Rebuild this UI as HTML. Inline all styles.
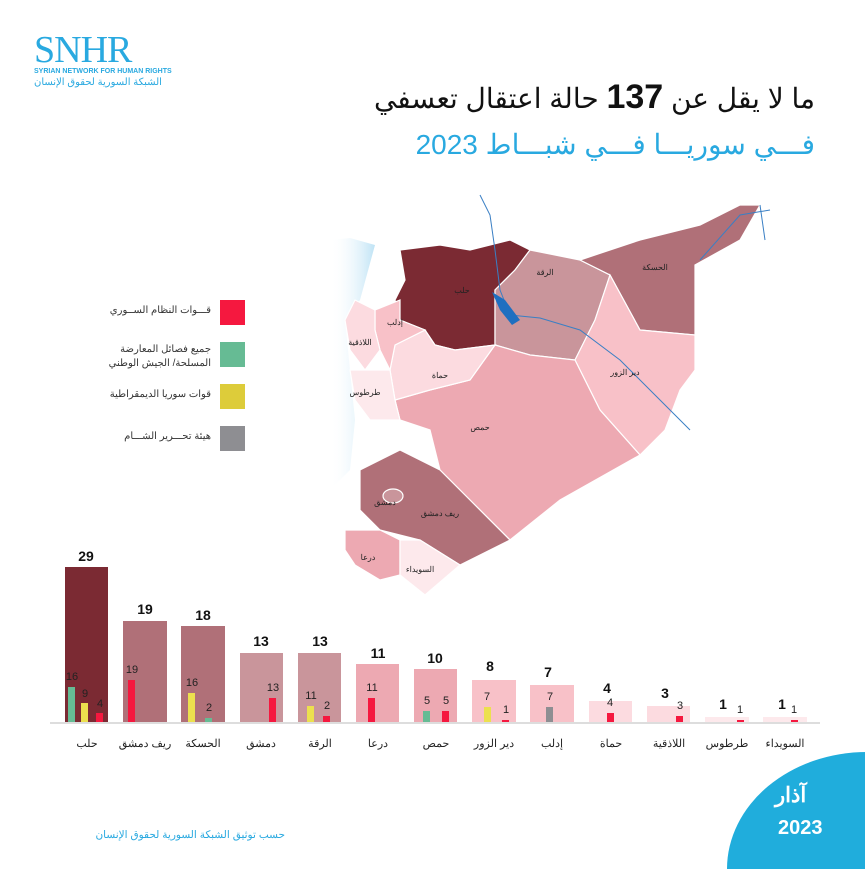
<!DOCTYPE html>
<html><head><meta charset="utf-8"><style>
body{margin:0;width:865px;height:867px;background:#fff;position:relative;overflow:hidden;font-family:"Liberation Sans","Noto Sans CJK SC",sans-serif}
.a{position:absolute}
.t{position:absolute;white-space:nowrap}
.bar{position:absolute}
.lbl{position:absolute;width:60px;text-align:center;font-size:14px;font-weight:bold;color:#111}
.cat{position:absolute;width:70px;text-align:center;font-size:11px;color:#222;top:737px}
.sm{position:absolute;font-size:11px;color:#222;width:20px;text-align:center}
</style></head><body>
<div class="t" style="left:34px;top:28px;font-family:'Liberation Serif',serif;font-size:38px;color:#29a9e0;letter-spacing:-1px">SNHR</div>
<div class="t" style="left:34px;top:68px;font-size:7px;color:#29a9e0;font-weight:bold">SYRIAN NETWORK FOR HUMAN RIGHTS</div>
<div class="t" style="left:34px;top:77px;font-size:10px;color:#29a9e0" dir="rtl">الشبكة السورية لحقوق الإنسان</div>

<div class="t" dir="rtl" style="right:50px;top:78px;font-size:28px;color:#111">ما لا يقل عن <b style="font-size:34px">137</b> حالة اعتقال تعسفي</div>
<div class="t" dir="rtl" style="right:50px;top:128px;font-size:28px;color:#29a9e0">فـــي سوريـــا فـــي شبـــاط 2023</div>

<svg class="a" style="left:0;top:0" width="865" height="867">
<defs><linearGradient id="sea" x1="0" x2="1"><stop offset="0" stop-color="#fff" stop-opacity="0"/><stop offset="1" stop-color="#bfe3f5"/></linearGradient></defs>
<path d="M330,240 L350,238 L375,245 L360,300 L345,320 L350,370 L355,420 L350,470 L330,490 Z" fill="url(#sea)"/>
<g stroke="#fff" stroke-width="1.2">
<polygon fill="#7b2a33" points="400,250 440,245 470,250 510,240 530,250 515,270 495,290 495,345 455,350 435,345 425,330 400,320 395,300 405,280"/>
<polygon fill="#c9959b" points="530,250 580,260 610,275 595,320 575,360 530,355 495,345 495,290 515,270"/>
<polygon fill="#b07078" points="580,260 640,240 700,225 740,205 760,205 740,240 695,265 695,335 640,330 610,275"/>
<polygon fill="#f8c1c8" points="610,275 640,330 695,335 695,370 680,390 665,430 640,455 600,410 575,360 595,320"/>
<polygon fill="#eda9b2" points="430,390 470,380 495,345 530,355 575,360 600,410 640,455 560,500 510,540 470,500 440,470 430,430 400,420 395,400"/>
<polygon fill="#fcdbe0" points="395,345 425,330 435,345 455,350 495,345 470,380 430,390 395,400 390,370"/>
<polygon fill="#f8c1c8" points="375,310 400,300 400,320 425,330 395,345 390,370 380,350 375,330"/>
<polygon fill="#fcdbe0" points="355,300 375,310 375,330 380,350 365,370 350,350 345,320"/>
<polygon fill="#fde9ec" points="350,370 365,370 390,370 395,400 400,420 370,420 355,400"/>
<polygon fill="#b07078" points="360,470 400,450 440,470 470,500 510,540 460,565 420,540 380,530 360,510"/>
<polygon fill="#eda9b2" points="345,530 380,530 400,540 400,575 380,580 355,565 345,550"/>
<polygon fill="#fde9ec" points="400,540 420,540 460,565 425,595 400,575"/>
<ellipse fill="#c9959b" cx="393" cy="496" rx="10" ry="7"/>
</g>
<g fill="none" stroke="#3a7fc4" stroke-width="1">
<path d="M480,195 L490,215 L495,250 L500,290 L510,315 L540,318 L580,330 L620,360 L660,400 L690,430"/>
<path d="M700,260 L740,215 L770,210"/>
<path d="M760,205 L765,240"/>
</g>
<path d="M492,292 L505,300 L520,320 L512,325 L500,310 Z" fill="#1e6fc0"/>
<g font-size="8" fill="#222" text-anchor="middle" font-family="Liberation Sans,Noto Sans CJK SC,sans-serif">
<text x="462" y="293">حلب</text><text x="545" y="275">الرقة</text><text x="655" y="270">الحسكة</text>
<text x="625" y="375">دير الزور</text><text x="480" y="430">حمص</text><text x="440" y="378">حماة</text>
<text x="395" y="325">إدلب</text><text x="360" y="345">اللاذقية</text><text x="365" y="395">طرطوس</text>
<text x="440" y="516">ريف دمشق</text><text x="385" y="505">دمشق</text><text x="368" y="560">درعا</text><text x="420" y="572">السويداء</text>
</g>
</svg>

<div class="a" style="left:220px;top:300px;width:25px;height:25px;background:#f5183f"></div>
<div class="a" style="left:220px;top:342px;width:25px;height:25px;background:#66bb94"></div>
<div class="a" style="left:220px;top:384px;width:25px;height:25px;background:#ddcc3a"></div>
<div class="a" style="left:220px;top:426px;width:25px;height:25px;background:#8e8e92"></div>
<div class="t" dir="rtl" style="right:654px;top:305px;font-size:10px;color:#333">قـــوات النظام الســوري</div>
<div class="t" dir="rtl" style="right:654px;top:343px;font-size:10px;color:#333;line-height:14px;text-align:right">جميع فصائل المعارضة<br>المسلحة/ الجيش الوطني</div>
<div class="t" dir="rtl" style="right:654px;top:389px;font-size:10px;color:#333">قوات سوريا الديمقراطية</div>
<div class="t" dir="rtl" style="right:654px;top:431px;font-size:10px;color:#333">هيئة تحـــرير الشـــام</div>

<div class="bar" style="left:65px;top:567px;width:43px;height:156px;background:#7b2a33"></div>
<div class="bar" style="left:123px;top:621px;width:44px;height:102px;background:#b07078"></div>
<div class="bar" style="left:181px;top:626px;width:44px;height:97px;background:#b07078"></div>
<div class="bar" style="left:240px;top:653px;width:43px;height:70px;background:#c9959b"></div>
<div class="bar" style="left:298px;top:653px;width:43px;height:70px;background:#c9959b"></div>
<div class="bar" style="left:356px;top:664px;width:43px;height:59px;background:#eda9b2"></div>
<div class="bar" style="left:414px;top:669px;width:43px;height:54px;background:#eda9b2"></div>
<div class="bar" style="left:472px;top:680px;width:44px;height:43px;background:#f8c1c8"></div>
<div class="bar" style="left:530px;top:685px;width:44px;height:38px;background:#f8c1c8"></div>
<div class="bar" style="left:589px;top:701px;width:43px;height:22px;background:#fcdbe0"></div>
<div class="bar" style="left:647px;top:706px;width:43px;height:17px;background:#fcdbe0"></div>
<div class="bar" style="left:705px;top:717px;width:44px;height:6px;background:#fde9ec"></div>
<div class="bar" style="left:763px;top:717px;width:44px;height:6px;background:#fde9ec"></div>
<div class="a" style="left:50px;top:722px;width:770px;height:2px;background:#ddd"></div>

<div class="lbl" style="left:56px;top:548px">29</div>
<div class="lbl" style="left:115px;top:601px">19</div>
<div class="lbl" style="left:173px;top:607px">18</div>
<div class="lbl" style="left:231px;top:633px">13</div>
<div class="lbl" style="left:290px;top:633px">13</div>
<div class="lbl" style="left:348px;top:645px">11</div>
<div class="lbl" style="left:405px;top:650px">10</div>
<div class="lbl" style="left:460px;top:658px">8</div>
<div class="lbl" style="left:518px;top:664px">7</div>
<div class="lbl" style="left:577px;top:680px">4</div>
<div class="lbl" style="left:635px;top:685px">3</div>
<div class="lbl" style="left:693px;top:696px">1</div>
<div class="lbl" style="left:752px;top:696px">1</div>

<div class="bar" style="left:68px;top:687px;width:7px;height:35px;background:#66bb94"></div>
<div class="bar" style="left:81px;top:703px;width:7px;height:19px;background:#ece04e"></div>
<div class="bar" style="left:96px;top:713px;width:7px;height:9px;background:#f5183f"></div>
<div class="bar" style="left:128px;top:680px;width:7px;height:42px;background:#f5183f"></div>
<div class="bar" style="left:188px;top:693px;width:7px;height:29px;background:#ece04e"></div>
<div class="bar" style="left:205px;top:718px;width:7px;height:4px;background:#66bb94"></div>
<div class="bar" style="left:269px;top:698px;width:7px;height:24px;background:#f5183f"></div>
<div class="bar" style="left:307px;top:706px;width:7px;height:16px;background:#ece04e"></div>
<div class="bar" style="left:323px;top:716px;width:7px;height:6px;background:#f5183f"></div>
<div class="bar" style="left:368px;top:698px;width:7px;height:24px;background:#f5183f"></div>
<div class="bar" style="left:423px;top:711px;width:7px;height:11px;background:#66bb94"></div>
<div class="bar" style="left:442px;top:711px;width:7px;height:11px;background:#f5183f"></div>
<div class="bar" style="left:484px;top:707px;width:7px;height:15px;background:#ece04e"></div>
<div class="bar" style="left:502px;top:720px;width:7px;height:2px;background:#f5183f"></div>
<div class="bar" style="left:546px;top:707px;width:7px;height:15px;background:#8e8e92"></div>
<div class="bar" style="left:607px;top:713px;width:7px;height:9px;background:#f5183f"></div>
<div class="bar" style="left:676px;top:716px;width:7px;height:6px;background:#f5183f"></div>
<div class="bar" style="left:737px;top:720px;width:7px;height:2px;background:#f5183f"></div>
<div class="bar" style="left:791px;top:720px;width:7px;height:2px;background:#f5183f"></div>

<div class="sm" style="left:62px;top:671px">16</div>
<div class="sm" style="left:75px;top:688px">9</div>
<div class="sm" style="left:90px;top:698px">4</div>
<div class="sm" style="left:122px;top:664px">19</div>
<div class="sm" style="left:182px;top:677px">16</div>
<div class="sm" style="left:199px;top:702px">2</div>
<div class="sm" style="left:263px;top:682px">13</div>
<div class="sm" style="left:301px;top:690px">11</div>
<div class="sm" style="left:317px;top:700px">2</div>
<div class="sm" style="left:362px;top:682px">11</div>
<div class="sm" style="left:417px;top:695px">5</div>
<div class="sm" style="left:436px;top:695px">5</div>
<div class="sm" style="left:477px;top:691px">7</div>
<div class="sm" style="left:496px;top:704px">1</div>
<div class="sm" style="left:540px;top:691px">7</div>
<div class="sm" style="left:600px;top:697px">4</div>
<div class="sm" style="left:670px;top:700px">3</div>
<div class="sm" style="left:730px;top:704px">1</div>
<div class="sm" style="left:784px;top:704px">1</div>

<div class="cat" style="left:52px">حلب</div>
<div class="cat" style="left:110px">ريف دمشق</div>
<div class="cat" style="left:168px">الحسكة</div>
<div class="cat" style="left:226px">دمشق</div>
<div class="cat" style="left:285px">الرقة</div>
<div class="cat" style="left:343px">درعا</div>
<div class="cat" style="left:401px">حمص</div>
<div class="cat" style="left:459px">دير الزور</div>
<div class="cat" style="left:517px">إدلب</div>
<div class="cat" style="left:576px">حماة</div>
<div class="cat" style="left:634px">اللاذقية</div>
<div class="cat" style="left:692px">طرطوس</div>
<div class="cat" style="left:750px">السويداء</div>

<div class="a" style="left:727px;top:752px;width:140px;height:117px;background:#20addc;border-top-left-radius:100% 100%"></div>
<div class="t" dir="rtl" style="left:775px;top:783px;font-size:21px;font-weight:bold;color:#fff">آذار</div>
<div class="t" style="left:778px;top:817px;font-size:20px;font-weight:bold;color:#fff">2023</div>
<div class="t" dir="rtl" style="right:580px;top:829px;font-size:10.5px;color:#29a9e0">حسب توثيق الشبكة السورية لحقوق الإنسان</div>
</body></html>
